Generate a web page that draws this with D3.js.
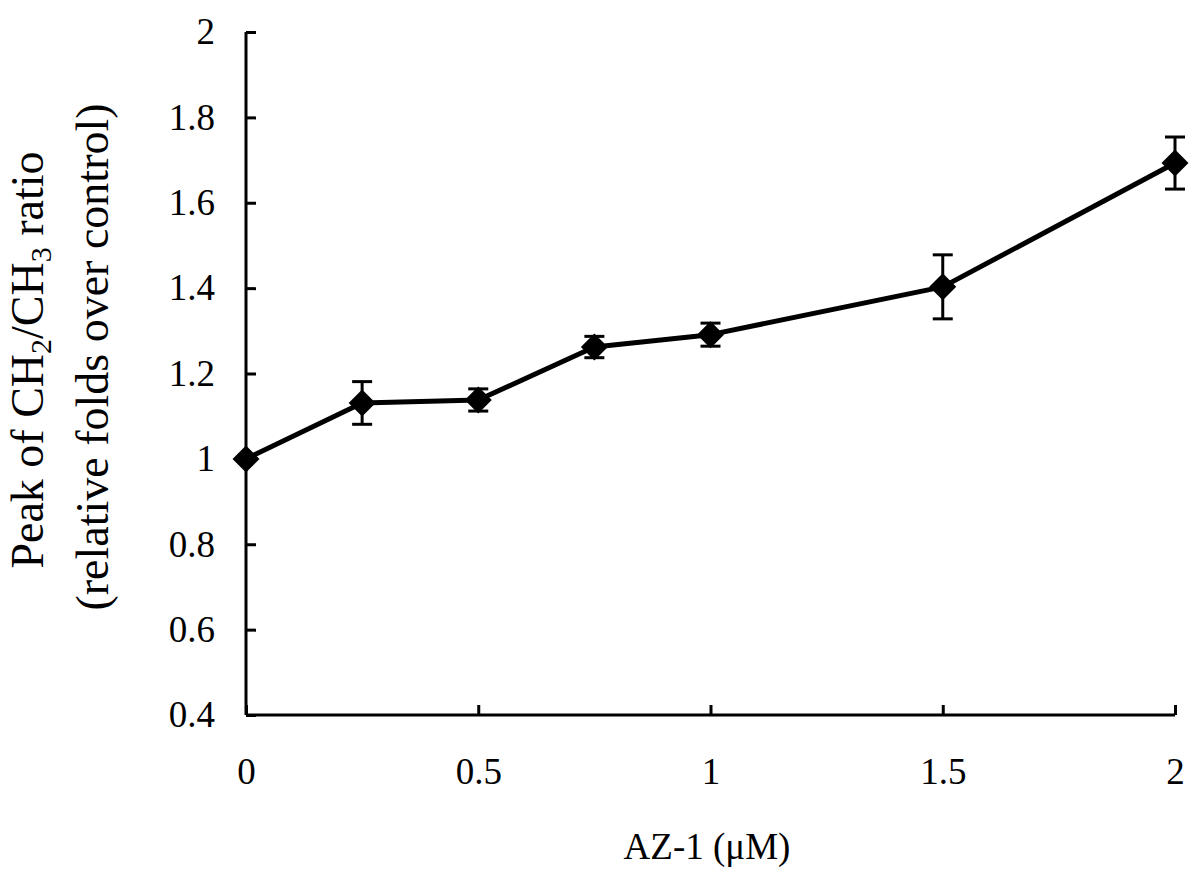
<!DOCTYPE html>
<html>
<head>
<meta charset="utf-8">
<script src="https://cdn.jsdelivr.net/npm/d3@7"></script>
<style>
  html, body { margin: 0; padding: 0; background: #fff; }
  svg { display: block; }
  svg text { font-family: "Liberation Serif", Tinos, "Times New Roman", Times, "DejaVu Serif", serif !important; fill: #000; }
</style>
</head>
<body>
<svg id="chart" width="1200" height="876"></svg>
<script>
const doses = [0, 0.25, 0.5, 0.75, 1, 1.5, 2];
const means = [1.0, 1.131, 1.138, 1.262, 1.291, 1.403, 1.693];
const errors = [0, 0.05, 0.026, 0.025, 0.027, 0.075, 0.061];
const xTicks = [0, 0.5, 1, 1.5, 2];
const yTicks = [0.4, 0.6, 0.8, 1, 1.2, 1.4, 1.6, 1.8, 2];

const FONT = "'Liberation Serif', Tinos, 'Times New Roman', Times, 'DejaVu Serif', serif";
const svg = d3.select("#chart");
const x = d3.scaleLinear().domain([0, 2]).range([246, 1175]);
const y = d3.scaleLinear().domain([0.4, 2]).range([715, 32]);

const data = doses.map((d, i) => ({ x: d, y: means[i], e: errors[i] }));

// Axes
const xAxis = d3.axisBottom(x).tickValues(xTicks).tickSize(-10).tickPadding(30)
  .tickFormat(d3.format("~g"));
const gx = svg.append("g").attr("transform", `translate(0,${y(0.4)})`).call(xAxis)
  .attr("font-family", FONT);
gx.select(".domain").attr("stroke", "#000").attr("stroke-width", 3)
  .attr("d", `M${x(0)},0H${x(2)}`);
gx.selectAll(".tick line").attr("stroke", "#000").attr("stroke-width", 3);
gx.selectAll(".tick text").attr("font-size", 37).attr("dy", "0.71em").attr("y", 43);

const yAxis = d3.axisLeft(y).tickValues(yTicks).tickSize(-10).tickPadding(30)
  .tickFormat(d3.format("~g"));
const gy = svg.append("g").attr("transform", `translate(${x(0)},0)`).call(yAxis)
  .attr("font-family", FONT);
gy.select(".domain").attr("stroke", "#000").attr("stroke-width", 3)
  .attr("d", `M0,${y(0.4)}V${y(2)}`);
gy.selectAll(".tick line").attr("stroke", "#000").attr("stroke-width", 3);
gy.selectAll(".tick text").attr("font-size", 37).attr("x", -31);

// Error bars
const eb = svg.append("g").attr("stroke", "#000").attr("stroke-width", 3).attr("fill", "none");
data.filter(d => d.e > 0).forEach(d => {
  eb.append("line").attr("x1", x(d.x)).attr("x2", x(d.x)).attr("y1", y(d.y - d.e)).attr("y2", y(d.y + d.e));
  eb.append("line").attr("x1", x(d.x) - 10).attr("x2", x(d.x) + 10).attr("y1", y(d.y + d.e)).attr("y2", y(d.y + d.e));
  eb.append("line").attr("x1", x(d.x) - 10).attr("x2", x(d.x) + 10).attr("y1", y(d.y - d.e)).attr("y2", y(d.y - d.e));
});

// Line
const line = d3.line().x(d => x(d.x)).y(d => y(d.y));
svg.append("path").datum(data).attr("d", line)
  .attr("fill", "none").attr("stroke", "#000").attr("stroke-width", 5).attr("stroke-linejoin", "round");

// Diamond markers
const r = 13.5;
svg.append("g").selectAll("path.m").data(data).join("path")
  .attr("d", d => `M${x(d.x)},${y(d.y) - r}L${x(d.x) + r},${y(d.y)}L${x(d.x)},${y(d.y) + r}L${x(d.x) - r},${y(d.y)}Z`)
  .attr("fill", "#000");

// X title
svg.append("text").attr("x", 707).attr("y", 859).attr("text-anchor", "middle")
  .attr("font-family", FONT).attr("font-size", 37).text("AZ-1 (\u03BCM)");

// Y title
const t1 = svg.append("text").attr("transform", "translate(43,360) rotate(-90)")
  .attr("text-anchor", "middle").attr("font-family", FONT).attr("font-size", 46);
t1.append("tspan").text("Peak of CH");
t1.append("tspan").attr("font-size", 30).attr("dy", 8).text("2");
t1.append("tspan").attr("dy", -8).text("/CH");
t1.append("tspan").attr("font-size", 30).attr("dy", 8).text("3");
t1.append("tspan").attr("dy", -8).text(" ratio");

svg.append("text").attr("transform", "translate(108,357) rotate(-90)")
  .attr("text-anchor", "middle").attr("font-family", FONT).attr("font-size", 46)
  .text("(relative folds over control)");
</script>
</body>
</html>
